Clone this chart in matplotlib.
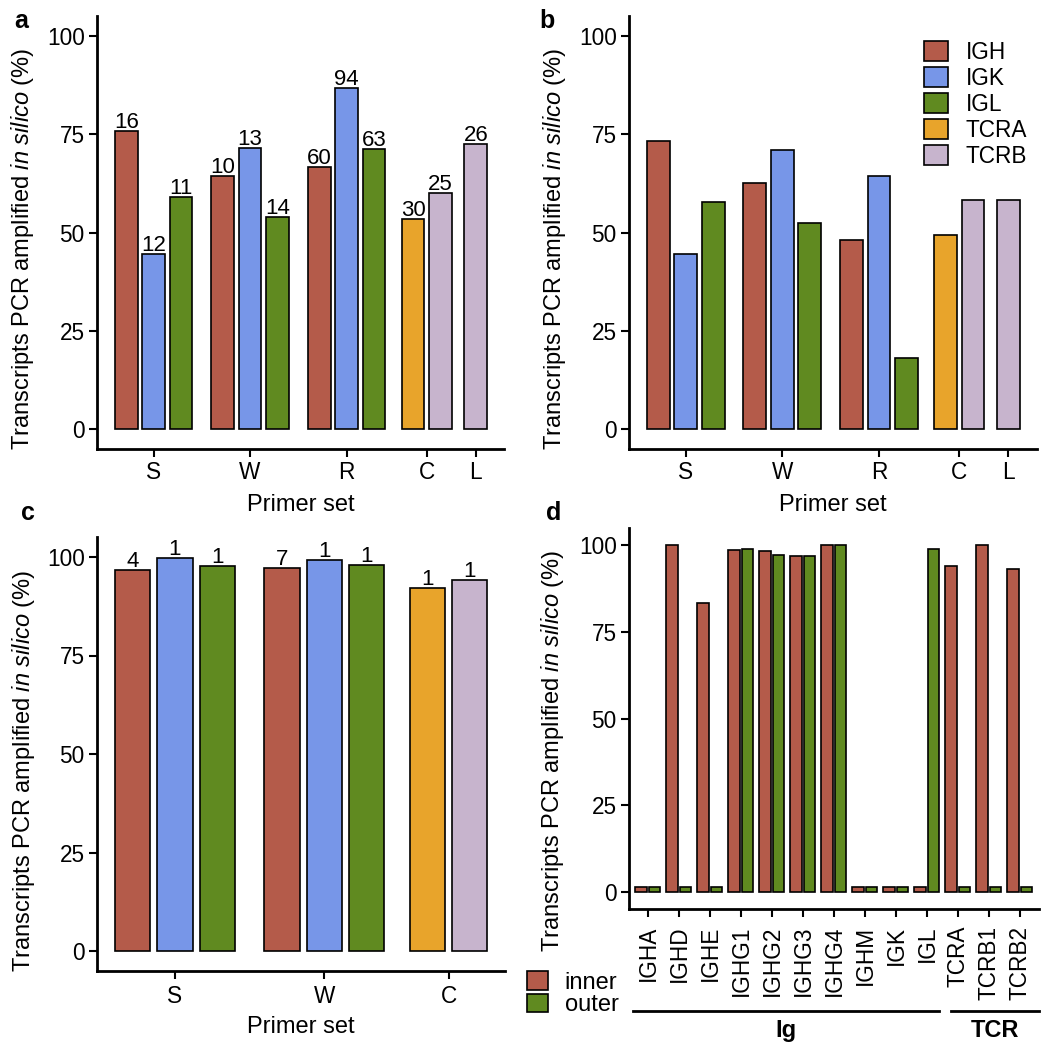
import matplotlib
matplotlib.use("Agg")
import matplotlib.pyplot as plt
import matplotlib.transforms as mtransforms
from matplotlib.patches import Patch

plt.rcParams['font.family'] = ['Liberation Sans', 'DejaVu Sans']
plt.rcParams['mathtext.fontset'] = 'custom'
plt.rcParams['mathtext.rm'] = 'Liberation Sans'
plt.rcParams['mathtext.it'] = 'Liberation Sans:italic'

# ---- data ----
primer_sets_ab = ['S', 'W', 'R', 'C', 'L']
loci_ab = [['IGH', 'IGK', 'IGL'], ['IGH', 'IGK', 'IGL'], ['IGH', 'IGK', 'IGL'],
           ['TCRA', 'TCRB'], ['TCRB']]
pct_a = [[75.8, 44.6, 59.1], [64.3, 71.4, 53.9], [66.8, 86.8, 71.2], [53.5, 60.1], [72.6]]
n_a = [[16, 12, 11], [10, 13, 14], [60, 94, 63], [30, 25], [26]]
pct_b = [[73.2, 44.6, 57.7], [62.7, 71.0, 52.5], [48.1, 64.3, 18.2], [49.5, 58.3], [58.3]]

primer_sets_c = ['S', 'W', 'C']
loci_c = [['IGH', 'IGK', 'IGL'], ['IGH', 'IGK', 'IGL'], ['TCRA', 'TCRB']]
pct_c = [[96.7, 99.7, 97.7], [97.2, 99.3, 98.0], [92.1, 94.2]]
n_c = [[4, 1, 1], [7, 1, 1], [1, 1]]

genes_d = ['IGHA', 'IGHD', 'IGHE', 'IGHG1', 'IGHG2', 'IGHG3', 'IGHG4',
           'IGHM', 'IGK', 'IGL', 'TCRA', 'TCRB1', 'TCRB2']
inner_d = [1.3, 100, 83.3, 98.7, 98.5, 96.8, 100, 1.3, 1.3, 1.3, 94.1, 100, 93.2]
outer_d = [1.3, 1.3, 1.3, 98.9, 97.3, 96.8, 100, 1.3, 1.3, 99.0, 1.3, 1.3, 1.3]

locus_colors = {'IGH': '#B45B4A', 'IGK': '#7796E8', 'IGL': '#608A20',
                'TCRA': '#E8A42B', 'TCRB': '#C7B4CD'}
inner_col, outer_col = '#B45B4A', '#608A20'

ylab = r'Transcripts PCR amplified $\mathit{in\ silico}$ (%)'
FS_TITLE = 17
FS_TICK = 16.3
FS_NUM = 16

# ---- layout (pixels) ----
W, H = 1050, 1049
fig = plt.figure(figsize=(W / 100, H / 100), dpi=100)


def px_axes(left, top, right, bottom):
    return fig.add_axes([left / W, 1 - bottom / H, (right - left) / W, (bottom - top) / H])


def style(ax, ylab_xy, xpad=3):
    for s in ['top', 'right']:
        ax.spines[s].set_visible(False)
    for s in ['left', 'bottom']:
        ax.spines[s].set_linewidth(2.0)
    ax.tick_params(direction='out', length=6, width=1.5, labelsize=FS_TICK, pad=3, color='black')
    ax.tick_params(axis='x', pad=xpad)
    ax.set_ylim(-5, 105)
    ax.set_yticks([0, 25, 50, 75, 100])
    ax.set_ylabel(ylab, fontsize=FS_TITLE, va='center')
    ax.yaxis.set_label_coords(*ylab_xy)


def grouped(ax, centers, loci, pct, counts=None, pitch=0.3, width=0.25):
    for g, c in enumerate(centers):
        k = len(pct[g])
        for i in range(k):
            x = c + (i - (k - 1) / 2) * pitch
            ax.bar(x, pct[g][i], width=width, color=locus_colors[loci[g][i]],
                   edgecolor='black', linewidth=1.2)
            if counts is not None:
                ax.annotate(str(counts[g][i]), (x, pct[g][i]), xytext=(0, 2.2),
                            textcoords='offset points', ha='center', va='baseline',
                            fontsize=FS_NUM)


# positions of the primer-set groups (bar pitch = 0.3)
centers_ab = [0, 1.058, 2.12, 3.0, 3.54]
centers_c = [0, 1.06, 1.94]

ax_a = px_axes(97.3, 16.3, 504, 449)
ax_b = px_axes(629.3, 16.3, 1036.7, 449)
ax_c = px_axes(97.3, 537.3, 505, 970.7)
ax_d = px_axes(629.3, 528, 1038.5, 909)

for ax, pct, cnt in [(ax_a, pct_a, n_a), (ax_b, pct_b, None)]:
    grouped(ax, centers_ab, loci_ab, pct, cnt)
    style(ax, (-0.183, 0.463))
    ax.set_xlim(-0.62, 3.85)
    ax.set_xticks(centers_ab)
    ax.set_xticklabels(primer_sets_ab)
    ax.set_xlabel('Primer set', fontsize=FS_TITLE, va='top')
    ax.xaxis.set_label_coords(0.5, -0.104)

grouped(ax_c, centers_c, loci_c, pct_c, n_c)
style(ax_c, (-0.181, 0.461), xpad=4)
ax_c.set_xlim(-0.55, 2.34)
ax_c.set_xticks(centers_c)
ax_c.set_xticklabels(primer_sets_c)
ax_c.set_xlabel('Primer set', fontsize=FS_TITLE, va='top')
ax_c.xaxis.set_label_coords(0.5, -0.105)

# legend panel b
order = ['IGH', 'IGK', 'IGL', 'TCRA', 'TCRB']
handles = [Patch(facecolor=locus_colors[k], edgecolor='black', linewidth=1.2, label=k) for k in order]
ax_b.legend(handles=handles, loc='upper left', bbox_to_anchor=(924 / W, 1 - 41 / H),
            bbox_transform=fig.transFigure, frameon=False, fontsize=FS_TICK,
            handlelength=1.05, handleheight=1.0, handletextpad=0.8,
            labelspacing=0.13, borderpad=0, borderaxespad=0)

# panel d
xd = list(range(1, len(genes_d) + 1))
ax_d.bar([x - 0.225 for x in xd], inner_d, width=0.36, color=inner_col,
         edgecolor='black', linewidth=1.2)
ax_d.bar([x + 0.225 for x in xd], outer_d, width=0.36, color=outer_col,
         edgecolor='black', linewidth=1.2)
style(ax_d, (-0.188, 0.415), xpad=6)
ax_d.set_xlim(0.4, len(genes_d) + 0.6)
ax_d.set_xticks(xd)
ax_d.set_xticklabels(genes_d, rotation=90)

trans = mtransforms.blended_transform_factory(ax_d.transData, ax_d.transAxes)
for x0, x1, lab in [(0.507, 10.38, 'Ig'), (10.78, 13.6, 'TCR')]:
    ax_d.plot([x0, x1], [-0.269, -0.269], color='black', lw=2.0, transform=trans, clip_on=False)
    ax_d.text((x0 + x1) / 2, -0.318, lab, transform=trans, ha='center', va='center',
              fontsize=FS_TITLE, fontweight='bold')

handles_d = [Patch(facecolor=inner_col, edgecolor='black', linewidth=1.2, label='inner'),
             Patch(facecolor=outer_col, edgecolor='black', linewidth=1.2, label='outer')]
ax_d.legend(handles=handles_d, loc='upper left', bbox_to_anchor=(527 / W, 1 - 971 / H),
            bbox_transform=fig.transFigure, frameon=False, fontsize=FS_TITLE,
            handlelength=0.9, handleheight=0.85, handletextpad=0.7,
            labelspacing=0.0, borderpad=0, borderaxespad=0)

# panel letters
for lx, ly, letter in [(14, 28, 'a'), (539, 28, 'b'), (21, 520, 'c'), (546, 520, 'd')]:
    fig.text(lx / W, 1 - ly / H, letter, fontsize=18, fontweight='bold', ha='left', va='baseline')

fig.savefig('out.png', dpi=100)
